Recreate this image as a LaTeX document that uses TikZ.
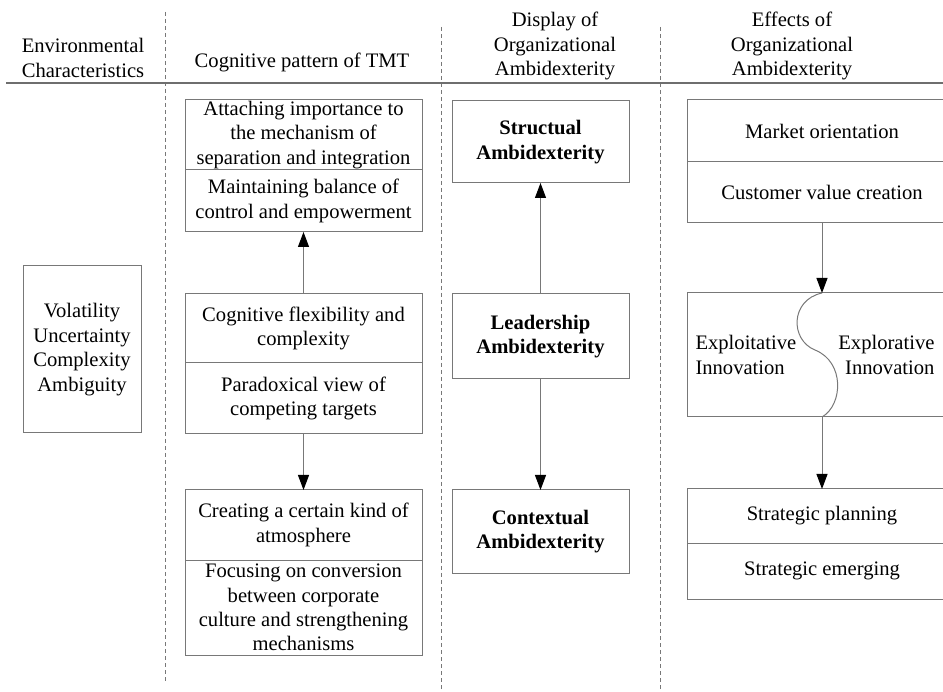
\documentclass[tikz,border=0pt]{standalone}
\usepackage{fontspec}
\setmainfont{Liberation Serif}
\usetikzlibrary{positioning,arrows.meta}
\definecolor{boxgray}{RGB}{120,120,120}
\definecolor{rulegray}{RGB}{110,110,110}
\begin{document}
\begin{tikzpicture}[x=1pt, y=-1pt,
		every node/.style = {font=\fontsize{20.6}{24.4}\selectfont, align=center},
		cell/.style = {shape=rectangle, draw=boxgray, line width=1pt,
			inner sep=0pt, outer sep=0pt, minimum width=#1},
		strong/.style = {font=\fontsize{20.6}{24.4}\selectfont\bfseries},
		link/.style = {draw=boxgray, line width=1pt,
			-{Triangle[length=15pt, width=11pt, color=black]}},
		divider/.style = {draw=boxgray, line width=0.8pt, dash pattern=on 4pt off 3pt}]
		\useasboundingbox (0,0) rectangle (943,692);
		\clip (0,0) rectangle (943,692);
		\draw[divider] (165,12) -- (165,683);
		\draw[divider] (441,27) -- (441,692);
		\draw[divider] (660,27) -- (660,692);
		\draw[rulegray, line width=1.4pt] (6,83) -- (943,83);
		\node (envhead) at (83,58) {Environmental\\Characteristics};
		\node (coghead) at (302,62) {Cognitive pattern of TMT};
		\node (disphead) at (555,46) {Display of\\Organizational\\Ambidexterity};
		\node (effhead) at (792,46) {Effects of\\Organizational\\Ambidexterity};
		\node[cell=118pt, minimum height=167pt] (vuca) at (82,349.5)
			{Volatility\\Uncertainty\\Complexity\\Ambiguity};
		\node[cell=237pt, minimum height=70pt] (attach) at (303.5,135)
			{Attaching importance to\\the mechanism of\\separation and integration};
		\node[cell=237pt, minimum height=62pt, below=0pt of attach] (balance)
			{Maintaining balance of\\control and empowerment};
		\node[cell=237pt, minimum height=69pt] (flex) at (303.5,328.5)
			{Cognitive flexibility and\\complexity};
		\node[cell=237pt, minimum height=71pt, below=0pt of flex] (paradox)
			{Paradoxical view of\\competing targets};
		\node[cell=237pt, minimum height=70pt] (atmos) at (303.5,525)
			{Creating a certain kind of\\atmosphere};
		\node[cell=237pt, minimum height=95pt, below=0pt of atmos] (focus)
			{Focusing on conversion\\between corporate\\culture and strengthening\\mechanisms};
		\node[cell=177pt, minimum height=82pt, strong] (struct) at (540.5,142)
			{Structual\\Ambidexterity};
		\node[cell=177pt, minimum height=85pt, strong] (lead) at (540.5,336.5)
			{Leadership\\Ambidexterity};
		\node[cell=177pt, minimum height=83pt, strong] (context) at (540.5,531.5)
			{Contextual\\Ambidexterity};
		\node[cell=270pt, minimum height=62pt] (market) at (822,131) {Market orientation};
		\node[cell=270pt, minimum height=61pt, below=0pt of market] (custval)
			{Customer value creation};
		\node[cell=270pt, minimum height=124pt] (innov) at (822,355) {};
		\node[anchor=west, align=left] (exploit) at ([xshift=5pt]innov.west)
			{Exploitative\\Innovation};
		\node[anchor=east, align=right] (explore) at ([xshift=-19pt]innov.east)
			{Explorative\\Innovation};
		\node[cell=270pt, minimum height=54pt] (plan) at (822,516) {Strategic planning};
		\node[cell=270pt, minimum height=56pt, below=0pt of plan] (emerge)
			{Strategic emerging};
		\coordinate (bend) at (815,350);
		\draw[boxgray, line width=1pt] (innov.north) .. controls +(-32,7) and +(-25,-10) .. (bend)
			.. controls +(30,12) and +(21,-12) .. (innov.south);
		\draw[link] (flex) -- (balance);
		\draw[link] (paradox) -- (atmos);
		\draw[link] (lead) -- (struct);
		\draw[link] (lead) -- (context);
		\draw[link] (custval) -- (innov);
		\draw[link] (innov) -- (plan);
	\end{tikzpicture}
\end{document}
